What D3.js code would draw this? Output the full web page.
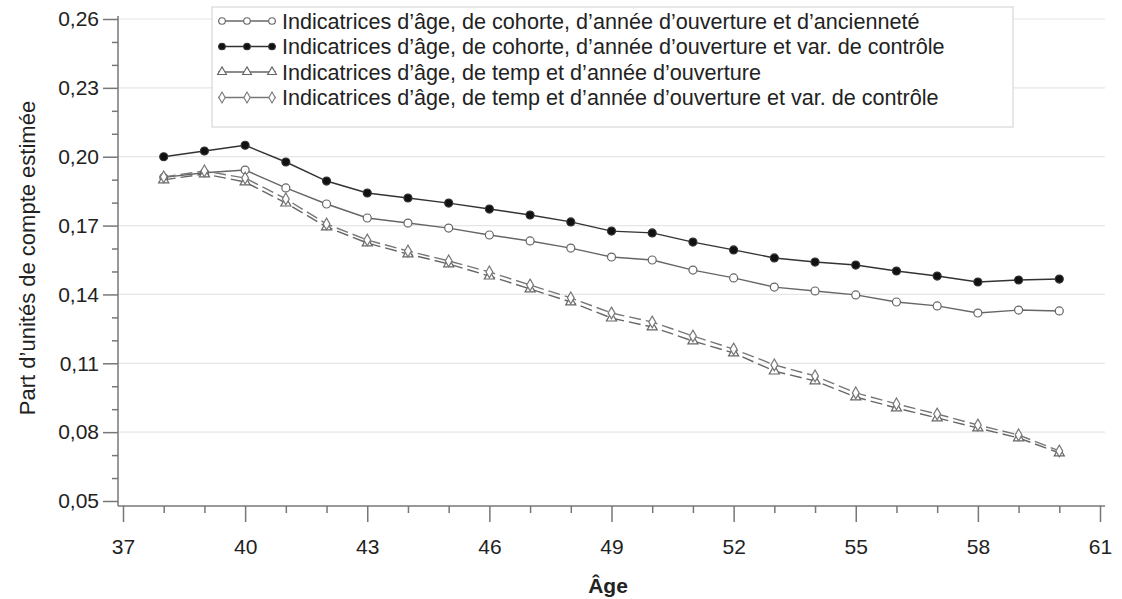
<!DOCTYPE html>
<html><head><meta charset="utf-8">
<script src="https://cdn.jsdelivr.net/npm/d3@7"></script>
<style>body{margin:0;background:#fff;} svg{display:block;font-family:"Liberation Sans",Arial,sans-serif;}</style>
</head><body>
<svg id="c" width="1122" height="599"></svg>
<script>
const ages = [38,39,40,41,42,43,44,45,46,47,48,49,50,51,52,53,54,55,56,57,58,59,60];
const seriesNames = [
  "Indicatrices d’âge, de cohorte, d’année d’ouverture et d’ancienneté",
  "Indicatrices d’âge, de cohorte, d’année d’ouverture et var. de contrôle",
  "Indicatrices d’âge, de temp et d’année d’ouverture",
  "Indicatrices d’âge, de temp et d’année d’ouverture et var. de contrôle"
];
const cohorteAnciennete = [0.1910,0.1930,0.1942,0.1864,0.1794,0.1733,0.1711,0.1689,0.1659,0.1633,0.1602,0.1563,0.1550,0.1506,0.1472,0.1432,0.1415,0.1398,0.1367,0.1350,0.1319,0.1332,0.1328];
const cohorteControle = [0.2000,0.2025,0.2050,0.1977,0.1894,0.1842,0.1820,0.1798,0.1772,0.1746,0.1716,0.1676,0.1668,0.1628,0.1594,0.1559,0.1541,0.1528,0.1502,0.1480,0.1454,0.1463,0.1467];
const tempOuverture = [0.1899,0.1925,0.1890,0.1798,0.1694,0.1624,0.1576,0.1533,0.1480,0.1424,0.1367,0.1297,0.1258,0.1197,0.1145,0.1066,0.1023,0.0953,0.0905,0.0862,0.0818,0.0775,0.0709];
const tempControle = [0.1912,0.1938,0.1907,0.1816,0.1707,0.1637,0.1589,0.1546,0.1498,0.1441,0.1385,0.1319,0.1280,0.1219,0.1162,0.1093,0.1045,0.0971,0.0923,0.0879,0.0831,0.0788,0.0718];
const xTicks = [37,40,43,46,49,52,55,58,61];
const yTicks = [0.05,0.08,0.11,0.14,0.17,0.20,0.23,0.26];
const xTitle = "Âge";
const yTitle = "Part d’unités de compte estimée";

const svg = d3.select("#c");
const x = d3.scaleLinear().domain([37,61]).range([123,1100]);
const y = d3.scaleLinear().domain([0.05,0.26]).range([501,19]);
const axisX0 = 118, axisY0 = 506, gridRight = 1105;
const fmt = d3.format(".2f");
const frFmt = v => fmt(v).replace(".", ",");
const FS = 21;

// grid
svg.append("g").selectAll("line").data(yTicks.slice(1)).join("line")
  .attr("x1", axisX0).attr("x2", gridRight)
  .attr("y1", d => y(d)).attr("y2", d => y(d))
  .attr("stroke", "#e6e6e6").attr("stroke-width", 1.2);

// y axis
const yMinor = d3.range(5, 27).map(v => v/100).filter(v => !yTicks.some(t => Math.abs(t - v) < 1e-9));
const yAx = svg.append("g").attr("transform", `translate(${axisX0},0)`);
yAx.call(d3.axisLeft(y).tickValues(yTicks).tickFormat(frFmt).tickSize(15).tickPadding(4).tickSizeOuter(0));
yAx.append("g").call(d3.axisLeft(y).tickValues(yMinor).tickFormat("").tickSize(6).tickSizeOuter(0)).select(".domain").remove();
yAx.select(".domain").attr("d", `M0,${y(0.26)-3}V${axisY0}`);
yAx.selectAll("path,line").attr("stroke", "#777").attr("stroke-width", 1.5);
yAx.selectAll("text").attr("font-size", FS).attr("fill", "#222").attr("font-family", "Liberation Sans, Arial, sans-serif");

// x axis
const xMinor = d3.range(37, 62).filter(v => !xTicks.includes(v));
const xAx = svg.append("g").attr("transform", `translate(0,${axisY0})`);
xAx.call(d3.axisBottom(x).tickValues(xTicks).tickSize(16).tickPadding(17).tickSizeOuter(0));
xAx.append("g").call(d3.axisBottom(x).tickValues(xMinor).tickFormat("").tickSize(7).tickSizeOuter(0)).select(".domain").remove();
xAx.select(".domain").attr("d", `M${axisX0},0H${gridRight}`);
xAx.selectAll("path,line").attr("stroke", "#777").attr("stroke-width", 1.5);
xAx.selectAll("text").attr("font-size", FS).attr("fill", "#222").attr("font-family", "Liberation Sans, Arial, sans-serif");

// titles
svg.append("text").attr("x", 608).attr("y", 593).attr("text-anchor", "middle")
  .attr("font-size", FS).attr("font-weight", "bold").attr("fill", "#222").text(xTitle);
svg.append("text").attr("transform", "translate(35,258) rotate(-90)").attr("text-anchor", "middle")
  .attr("font-size", 22).attr("fill", "#222").text(yTitle);

// series
const series = [
  {name: seriesNames[0], vals: cohorteAnciennete, dash: null, sym: "circle", fill: "#fff", stroke: "#666"},
  {name: seriesNames[1], vals: cohorteControle, dash: null, sym: "circle", fill: "#111", stroke: "#333"},
  {name: seriesNames[2], vals: tempOuverture, dash: "12,5", sym: "triangle", fill: "#fff", stroke: "#666"},
  {name: seriesNames[3], vals: tempControle, dash: "12,5", sym: "diamond", fill: "#fff", stroke: "#777"}
];
const symGen = s => {
  if (s === "circle") return d3.symbol().type(d3.symbolCircle).size(50)();
  if (s === "triangle") return d3.symbol().type(d3.symbolTriangle).size(44)();
  return d3.symbol().type(d3.symbolDiamond).size(40)();
};
const line = d3.line().x(d => x(d[0])).y(d => y(d[1]));
const plot = svg.append("g");
series.forEach(s => {
  const pts = ages.map((a, i) => [a, s.vals[i]]);
  plot.append("path").attr("d", line(pts)).attr("fill", "none")
    .attr("stroke", s.stroke).attr("stroke-width", 1.4)
    .attr("stroke-dasharray", s.dash);
});
series.forEach(s => {
  const pts = ages.map((a, i) => [a, s.vals[i]]);
  plot.append("g").selectAll("path").data(pts).join("path")
    .attr("transform", d => `translate(${x(d[0])},${y(d[1])})`)
    .attr("d", symGen(s.sym)).attr("fill", s.fill).attr("stroke", s.stroke).attr("stroke-width", 1.2);
});

// legend
const lg = svg.append("g");
lg.append("rect").attr("x", 212).attr("y", 7).attr("width", 801).attr("height", 120)
  .attr("fill", "#fff").attr("stroke", "#d8d8d8").attr("stroke-width", 1.2);
series.forEach((s, i) => {
  const yy = 21 + i * 25.5;
  const g = lg.append("g");
  g.append("line").attr("x1", 218).attr("x2", 276).attr("y1", yy).attr("y2", yy)
    .attr("stroke", s.stroke).attr("stroke-width", 1.3);
  [222, 247, 272].forEach(cx => {
    g.append("path").attr("transform", `translate(${cx},${yy})`).attr("d", d3.symbol().type(
      s.sym === "circle" ? d3.symbolCircle : s.sym === "triangle" ? d3.symbolTriangle : d3.symbolDiamond).size(34)())
      .attr("fill", s.fill).attr("stroke", s.stroke).attr("stroke-width", 1.1);
  });
  g.append("text").attr("x", 282).attr("y", yy + 7.5).attr("font-size", 21.6).attr("fill", "#222").text(s.name);
});
</script>
</body></html>
